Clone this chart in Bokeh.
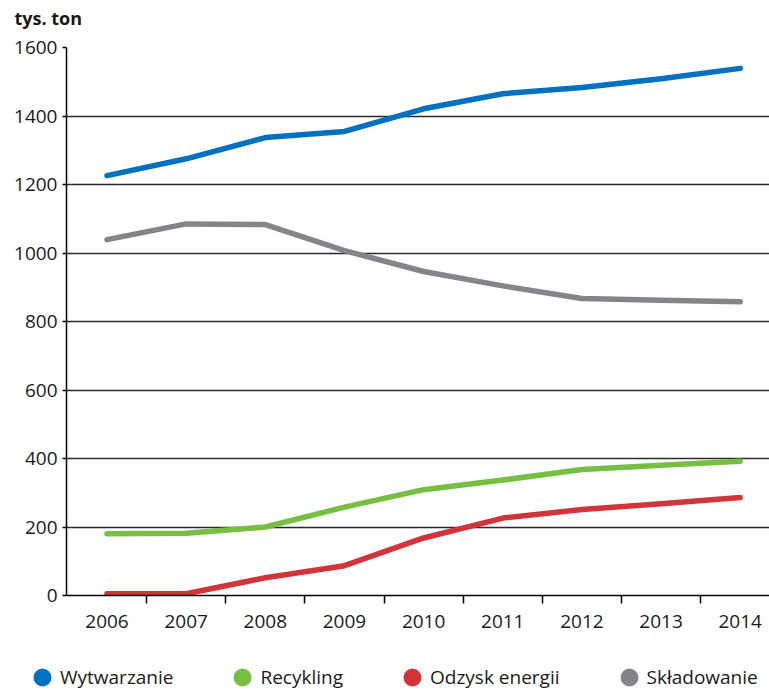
from bokeh.plotting import figure
from bokeh.layouts import column
from bokeh.models import Range1d, FixedTicker, Legend, LegendItem, Label
from bokeh.embed import file_html
from bokeh.resources import INLINE

years = [2006, 2007, 2008, 2009, 2010, 2011, 2012, 2013, 2014]
wytwarzanie = [1226, 1275, 1337, 1355, 1421, 1465, 1483, 1509, 1539]
skladowanie = [1039, 1085, 1083, 1007, 946, 904, 867, 862, 858]
recykling = [180, 182, 200, 258, 309, 337, 368, 380, 392]
odzysk = [5, 5, 52, 87, 168, 226, 251, 268, 286]
y_ticks = [0, 200, 400, 600, 800, 1000, 1200, 1400, 1600]
boundaries = [2006.5, 2007.5, 2008.5, 2009.5, 2010.5, 2011.5, 2012.5, 2013.5]
unit_label = "tys. ton"

series = [
    ("Wytwarzanie", wytwarzanie, "#0070C0"),
    ("Recykling", recykling, "#77BF43"),
    ("Odzysk energii", odzysk, "#D2343A"),
    ("Składowanie", skladowanie, "#848589"),
]

FONT = "Open Sans"


def strip(height):
    f = figure(width=769, height=height, output_backend="svg",
               toolbar_location=None, x_range=Range1d(0, 1),
               y_range=Range1d(0, 1), min_border_left=0, min_border_right=0,
               min_border_top=0, min_border_bottom=0, frame_align=False)
    f.axis.visible = False
    f.grid.visible = False
    f.outline_line_color = None
    return f


# header strip with unit label
hd = strip(32)
hd.add_layout(Label(x=14, y=15, x_units="screen", y_units="screen",
                    text=unit_label, text_font=FONT, text_font_size="18px",
                    text_font_style="bold", text_color="#1a1a1a",
                    text_baseline="alphabetic"))

p = figure(width=769, height=614, output_backend="svg", toolbar_location=None,
           x_range=Range1d(2005.488, 2014.37), y_range=Range1d(0, 1600),
           min_border_left=66, min_border_right=0, min_border_top=15,
           min_border_bottom=51, frame_align=False)
p.outline_line_color = None
p.background_fill_color = "white"
p.border_fill_color = "white"

# axes
p.xaxis.ticker = FixedTicker(ticks=years, minor_ticks=boundaries)
p.xaxis.major_tick_line_color = None
p.xaxis.major_tick_out = 0
p.xaxis.major_tick_in = 0
p.xaxis.minor_tick_out = 8
p.xaxis.minor_tick_in = 0
p.xaxis.minor_tick_line_color = "black"
p.xaxis.minor_tick_line_width = 1.5
p.xaxis.major_label_standoff = 11
p.xaxis.axis_line_color = "black"
p.xaxis.axis_line_width = 1.5

p.yaxis.ticker = FixedTicker(ticks=y_ticks)
p.yaxis.minor_tick_line_color = None
p.yaxis.major_tick_out = 4
p.yaxis.major_tick_in = 0
p.yaxis.major_tick_line_color = "black"
p.yaxis.major_tick_line_width = 1.5
p.yaxis.major_label_standoff = 5
p.yaxis.axis_line_color = "black"
p.yaxis.axis_line_width = 1.5

for ax in (p.xaxis, p.yaxis):
    ax.major_label_text_font = FONT
    ax.major_label_text_font_size = "19px"
    ax.major_label_text_color = "#1a1a1a"

p.xgrid.grid_line_color = None
p.ygrid.ticker = FixedTicker(ticks=y_ticks[1:])
p.ygrid.grid_line_color = "#2b2b2b"
p.ygrid.grid_line_width = 1.5

for name, vals, color in series:
    p.line(years, vals, line_color=color, line_width=5.5, line_cap="round",
           line_join="round")

# legend strip
lg = strip(45)
items = []
for name, vals, color in series:
    dummy = lg.scatter([5], [5], size=8, marker="circle", fill_color=color,
                       line_color=color, line_width=10)
    items.append(LegendItem(label=name, renderers=[dummy]))

legend = Legend(items=items, orientation="horizontal", location=(32, 1),
                glyph_width=20, glyph_height=20, label_standoff=8, spacing=59,
                padding=0, margin=0, border_line_color=None,
                background_fill_alpha=0, label_text_font=FONT,
                label_text_font_size="19px", label_text_color="#1a1a1a")
lg.add_layout(legend, "center")

layout = column(hd, p, lg, spacing=0)
open("out.html", "w").write(file_html(layout, INLINE))
